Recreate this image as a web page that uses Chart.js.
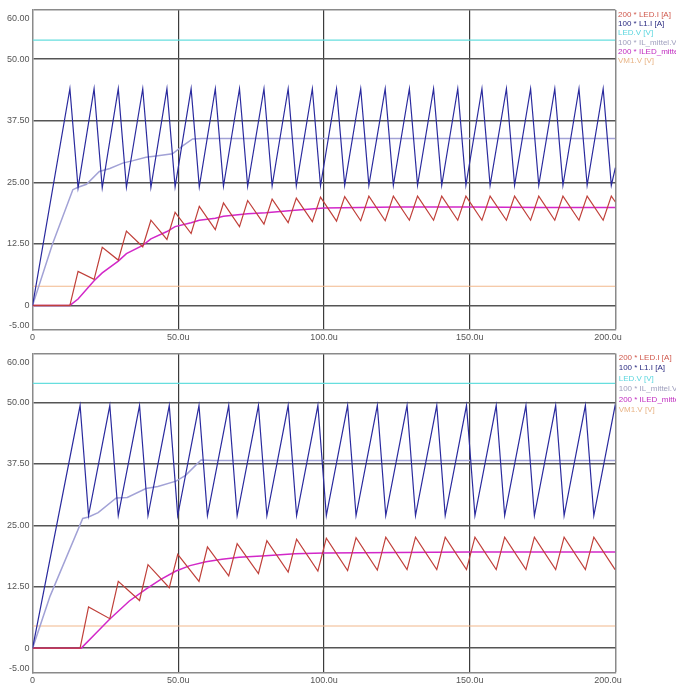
<!DOCTYPE html>
<html><head><meta charset="utf-8">
<script src="https://cdn.jsdelivr.net/npm/chart.js@4"></script>
<style>
html,body{margin:0;padding:0;background:#fff;width:676px;height:683px;overflow:hidden}
#c1{position:absolute;left:0;top:0}
#c2{position:absolute;left:0;top:342px}
</style></head><body>
<canvas id="c1" width="676" height="342"></canvas>
<canvas id="c2" width="676" height="341"></canvas>
<script>
// ---- labels / ticks ----
const seriesLabels = ['200 * LED.I [A]', '100 * L1.I [A]', 'LED.V [V]', '100 * IL_mittel.V [V]', '200 * ILED_mittel.V [V]', 'VM1.V [V]'];
const yTickValues = [-5, 0, 12.5, 25, 37.5, 50, 60];
const yTickLabels = ['-5.00', '0', '12.50', '25.00', '37.50', '50.00', '60.00'];
const xTickValues = [0, 50, 100, 150, 200];
const xTickLabels = ['0', '50.0u', '100.0u', '150.0u', '200.0u'];

// ---- top chart (time in u) ----
const topSwitchTime = [0, 12.8, 15.6, 21.1, 23.9, 29.4, 32.2, 37.8, 40.6, 46.1, 48.9, 54.4, 57.2, 62.7, 65.5, 71.0, 73.8, 79.4, 82.2, 87.7, 90.5, 96.0, 98.8, 104.3, 107.1, 112.6, 115.4, 121.0, 123.8, 129.3, 132.1, 137.6, 140.4, 145.9, 148.7, 154.2, 157.0, 162.6, 165.4, 170.9, 173.7, 179.2, 182.0, 187.5, 190.3, 195.8, 198.6, 200];
const topL1I = [0, 44.0, 23.9, 44.0, 23.9, 44.0, 24.0, 44.0, 24.0, 44.0, 24.1, 44.0, 24.1, 44.0, 24.2, 44.0, 24.2, 44.0, 24.3, 44.0, 24.3, 44.0, 24.3, 44.0, 24.4, 44.0, 24.4, 44.0, 24.4, 44.0, 24.4, 44.0, 24.4, 44.0, 24.4, 44.0, 24.4, 44.0, 24.4, 44.0, 24.4, 44.0, 24.4, 44.0, 24.4, 44.0, 24.4, 28.0];
const topLEDI = [0, 0, 6.9, 5.3, 11.8, 9.2, 15.1, 11.9, 17.3, 13.4, 18.9, 14.6, 20.1, 15.4, 20.8, 16.0, 21.3, 16.5, 21.6, 16.8, 21.8, 17.0, 22.0, 17.1, 22.1, 17.2, 22.2, 17.2, 22.2, 17.3, 22.2, 17.3, 22.2, 17.3, 22.2, 17.3, 22.2, 17.3, 22.2, 17.3, 22.2, 17.3, 22.2, 17.3, 22.2, 17.3, 22.2, 21.0];
const topILmittelTime = [0, 6.8, 13.8, 15.6, 18.5, 22.9, 26.5, 30.9, 34.5, 38.9, 43.0, 48.0, 51.5, 54.9, 58.0, 200];
const topILmittel = [0, 12.4, 23.5, 24.0, 24.6, 27.2, 27.8, 28.9, 29.4, 30.1, 30.4, 30.8, 32.4, 33.8, 33.9, 33.9];
const topILEDmittelTime = [0, 12.8, 15.6, 21.1, 23.9, 29.4, 32.2, 37.8, 40.6, 46.1, 48.9, 54.4, 57.2, 62.7, 65.5, 73.8, 80, 90, 100, 125, 150, 175, 200];
const topILEDmittel = [0, 0, 1.3, 5.0, 6.6, 9.0, 10.5, 12.2, 13.5, 15.0, 16.0, 16.8, 17.3, 17.7, 18.1, 18.6, 18.8, 19.3, 19.8, 20.0, 20.0, 19.9, 19.9];
const topConstTime = [0, 200];
const topLEDV = [53.9, 53.9];
const topVM1 = [3.9, 3.9];

// ---- bottom chart ----
const botSwitchTime = [0, 16.3, 19.2, 26.5, 29.4, 36.7, 39.6, 46.9, 49.8, 57.1, 60.0, 67.3, 70.2, 77.5, 80.4, 87.7, 90.6, 97.9, 100.8, 108.1, 111.0, 118.3, 121.2, 128.5, 131.4, 138.7, 141.6, 148.9, 151.8, 159.1, 162.0, 169.3, 172.2, 179.5, 182.4, 189.7, 192.6, 199.9, 200];
const botL1I = [0, 49.4, 27.0, 49.4, 27.0, 49.4, 27.0, 49.4, 27.0, 49.4, 27.0, 49.4, 27.0, 49.4, 27.0, 49.4, 27.0, 49.4, 27.0, 49.4, 27.0, 49.4, 27.0, 49.4, 27.0, 49.4, 27.0, 49.4, 27.0, 49.4, 27.0, 49.4, 27.0, 49.4, 27.0, 49.4, 27.0, 49.4, 49.2];
const botLEDI = [0, 0, 8.4, 6.0, 13.6, 9.7, 17.0, 12.3, 19.1, 13.6, 20.6, 14.7, 21.3, 15.2, 21.9, 15.5, 22.2, 15.7, 22.4, 15.8, 22.5, 15.9, 22.6, 16.0, 22.6, 16.0, 22.6, 16.0, 22.6, 16.0, 22.6, 16.0, 22.6, 16.0, 22.6, 16.0, 22.6, 16.0, 16.0];
const botILmittelTime = [0, 6.0, 17.2, 19.2, 22.5, 28.7, 32.5, 38.9, 43.0, 49.2, 52.5, 57.8, 62.0, 200];
const botILmittel = [0, 10.6, 26.4, 26.7, 27.6, 30.6, 30.7, 32.5, 32.9, 34.0, 35.2, 38.3, 38.2, 38.2];
const botILEDmittelTime = [0, 16.7, 21.8, 26.6, 33.2, 38.9, 44.0, 49.2, 54.0, 59.5, 65.0, 70.9, 80, 90, 100, 125, 150, 200];
const botILEDmittel = [0, 0, 3.1, 6.0, 9.6, 12.0, 14.0, 15.7, 16.8, 17.6, 18.1, 18.5, 18.8, 19.2, 19.4, 19.5, 19.6, 19.6];
const botConstTime = [0, 200];
const botLEDV = [53.9, 53.9];
const botVM1 = [4.5, 4.5];

// ---- styles ----
const lineColors = ['#c0403a', '#2a2a9e', '#66dede', '#a2a2d6', '#d228c8', '#f2b88c'];
const legendColors = ['#d0584c', '#2a2a80', '#5ad6de', '#a0a0be', '#c02cc0', '#e8b486'];
const lineWidths = [1.2, 1.2, 1.3, 1.5, 1.5, 1.1];
const drawOrder = [1, 0, 5, 3, 2, 4];
const FONT = '"Liberation Sans", Arial, sans-serif';
const LEGEND_FONT = '8px "Liberation Sans", Arial, sans-serif';

function ds(i, times, values) {
  return {
    label: seriesLabels[i],
    data: times.map((t, k) => ({x: t, y: values[k]})),
    borderColor: lineColors[i],
    borderWidth: lineWidths[i],
    pointRadius: 0,
    tension: 0,
    fill: false,
    order: drawOrder[i]
  };
}

const legendTextPlugin = {
  id: 'seriesText',
  afterDraw(chart, args, opts) {
    const ctx = chart.ctx;
    ctx.save();
    ctx.font = LEGEND_FONT;
    ctx.textBaseline = 'middle';
    ctx.textAlign = 'left';
    seriesLabels.forEach((t, i) => {
      ctx.fillStyle = legendColors[i];
      ctx.fillText(t, opts.x, opts.y0 + i * opts.dy);
    });
    ctx.restore();
  }
};

function makeChart(id, datasets, g) {
  return new Chart(document.getElementById(id), {
    type: 'line',
    data: {datasets},
    options: {
      responsive: false, animation: false, devicePixelRatio: 1,
      layout: {padding: {left: 0, right: g.padRight, top: g.padTop, bottom: 0}},
      plugins: {legend: {display: false}, tooltip: {enabled: false},
        seriesText: {x: g.legX, y0: g.legY0, dy: g.legDy}},
      scales: {
        x: {
          type: 'linear', min: 0, max: 200,
          afterBuildTicks: s => { s.ticks = xTickValues.map(v => ({value: v})); },
          afterFit: s => { s.height = g.xHeight; s.paddingLeft = 0; s.paddingRight = 0; },
          ticks: {autoSkip: false, maxRotation: 0, padding: 2, color: '#555',
            font: {family: FONT, size: 9},
            callback: v => {
              const l = xTickLabels[xTickValues.indexOf(v)];
              return v === 200 ? l + '      ' : l;
            }},
          grid: {drawTicks: false,
            color: c => c.tick && c.tick.value === 0 ? 'rgba(0,0,0,0)' : (c.tick && c.tick.value === 200 ? '#8a8a8a' : '#3c3c3c'),
            lineWidth: c => c.tick && c.tick.value === 200 ? 1.5 : 1.2},
          border: {color: '#8a8a8a', width: 1.5}
        },
        y: {
          type: 'linear', min: -5, max: 60,
          afterBuildTicks: s => { s.ticks = yTickValues.map(v => ({value: v})); },
          afterFit: s => { s.width = g.yWidth; s.paddingTop = 0; s.paddingBottom = 0; },
          ticks: {autoSkip: false, padding: 3, color: '#555',
            font: {family: FONT, size: 9, lineHeight: 1},
            callback: v => {
              const l = yTickLabels[yTickValues.indexOf(v)];
              if (v === 60) return ['', '', l];
              if (v === -5) return [l, ''];
              return l;
            }},
          grid: {drawTicks: false,
            color: c => c.tick && c.tick.value === -5 ? 'rgba(0,0,0,0)' : (c.tick && c.tick.value === 60 ? '#8a8a8a' : '#555555'),
            lineWidth: 1.5},
          border: {color: '#8a8a8a', width: 1.5}
        }
      }
    },
    plugins: [legendTextPlugin]
  });
}

makeChart('c1', [
  ds(0, topSwitchTime, topLEDI),
  ds(1, topSwitchTime, topL1I),
  ds(2, topConstTime, topLEDV),
  ds(3, topILmittelTime, topILmittel),
  ds(4, topILEDmittelTime, topILEDmittel),
  ds(5, topConstTime, topVM1)
], {padRight: 60.6, padTop: 10, xHeight: 12, yWidth: 32.6, legX: 618, legY0: 15, legDy: 9.1});

makeChart('c2', [
  ds(0, botSwitchTime, botLEDI),
  ds(1, botSwitchTime, botL1I),
  ds(2, botConstTime, botLEDV),
  ds(3, botILmittelTime, botILmittel),
  ds(4, botILEDmittelTime, botILEDmittel),
  ds(5, botConstTime, botVM1)
], {padRight: 60.6, padTop: 11.5, xHeight: 10.3, yWidth: 32.6, legX: 618.7, legY0: 15.3, legDy: 10.5});
</script>
</body></html>
